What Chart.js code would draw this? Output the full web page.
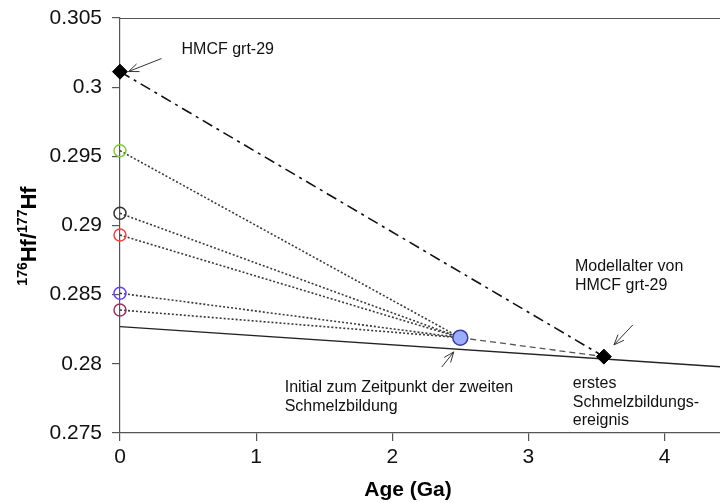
<!DOCTYPE html>
<html>
<head>
<meta charset="utf-8">
<script src="https://cdn.jsdelivr.net/npm/chart.js@4/dist/chart.umd.min.js"></script>
<style>
  html, body { margin: 0; padding: 0; background: #fff; }
  canvas { display: block; }
</style>
</head>
<body>
<canvas id="c" width="720" height="503"></canvas>
<script>
// Axis ranges and ticks
const xMin = 0, xMax = 4.408, xStep = 1;
const yMin = 0.275, yMax = 0.305, yStep = 0.005;

// HMCF grt-29 today and its model age
const hmcfAge = 0, hmcfRatio = 0.30112;
const modelAge = 3.555, modelRatio = 0.28052;

// Initial ratio at the time of the second melt formation
const initialAge = 2.5, initialRatio = 0.28189;

// Present-day sample ratios (age 0) and their marker colours
const sampleRatios = [0.29541, 0.29088, 0.28931, 0.28510, 0.28389];
const sampleColors = ['#7ccf35', '#333333', '#ff3b3b', '#6a3cff', '#993366'];

// Reference evolution line (end points)
const refAges = [0, 4.408];
const refRatios = [0.28269, 0.27979];

// Annotation texts: [age, ratio of first line, lines]
const noteTexts = [
  [0.452, 0.30272, ['HMCF grt-29']],
  [3.342, 0.28701, ['Modellalter von', 'HMCF grt-29']],
  [1.21, 0.27825, ['Initial zum Zeitpunkt der zweiten', 'Schmelzbildung']],
  [3.327, 0.27854, ['erstes', 'Schmelzbildungs-', 'ereignis']]
];
// Annotation arrows: [tailAge, tailRatio, headAge, headRatio]
const noteArrows = [
  [0.305, 0.30207, 0.0625, 0.30113],
  [3.768, 0.28282, 3.629, 0.28137],
  [2.364, 0.27977, 2.452, 0.28086]
];

const FONT = '"Liberation Sans", Arial, sans-serif';

const datasets = [];

// markers (drawn on top)
datasets.push({
  data: [{x: hmcfAge, y: hmcfRatio}, {x: modelAge, y: modelRatio}],
  pointStyle: 'rectRot', pointRadius: 7.5, backgroundColor: '#000', borderColor: '#000',
  borderWidth: 1, showLine: false, clip: false, order: 0
});
datasets.push({
  data: [{x: initialAge, y: initialRatio}],
  pointStyle: 'circle', pointRadius: 7.5, backgroundColor: '#9aaefc', borderColor: '#3a3aa8',
  borderWidth: 1.5, showLine: false, clip: false, order: 0
});
sampleRatios.forEach((r, i) => {
  datasets.push({
    data: [{x: 0, y: r}],
    pointStyle: 'circle', pointRadius: 6, backgroundColor: 'rgba(255,255,255,0)',
    borderColor: sampleColors[i], borderWidth: 1.5, showLine: false, clip: false, order: 0
  });
});

// dotted lines from each sample to the initial point
sampleRatios.forEach((r) => {
  datasets.push({
    data: [{x: 0, y: r}, {x: initialAge, y: initialRatio}],
    showLine: true, pointRadius: 0, borderColor: '#3a3a3a', borderWidth: 1.6,
    borderDash: [2, 2], clip: false, order: 2
  });
});

// dash-dot line from HMCF grt-29 to its model age
datasets.push({
  data: [{x: hmcfAge, y: hmcfRatio}, {x: modelAge, y: modelRatio}],
  showLine: true, pointRadius: 0, borderColor: '#111', borderWidth: 1.6,
  borderDash: [11, 5, 3, 5], order: 2
});

// dashed line from the initial point to the model age
datasets.push({
  data: [{x: initialAge, y: initialRatio}, {x: modelAge, y: modelRatio}],
  showLine: true, pointRadius: 0, borderColor: '#555', borderWidth: 1.3,
  borderDash: [6, 4], order: 2
});

// reference evolution line
datasets.push({
  data: refAges.map((a, i) => ({x: a, y: refRatios[i]})),
  showLine: true, pointRadius: 0, borderColor: '#222', borderWidth: 1.3, order: 3
});

const frame = {
  id: 'frame',
  afterDatasetsDraw(chart) {
    const {ctx, chartArea: a, scales: {x, y}} = chart;
    ctx.save();
    // top frame line
    ctx.strokeStyle = '#555';
    ctx.lineWidth = 1.2;
    ctx.beginPath();
    ctx.moveTo(a.left, a.top + 0.5);
    ctx.lineTo(a.right, a.top + 0.5);
    ctx.stroke();

    // annotation texts
    ctx.fillStyle = '#111';
    ctx.font = '16px ' + FONT;
    ctx.textAlign = 'left';
    ctx.textBaseline = 'middle';
    noteTexts.forEach(([ax, ay, lines]) => {
      const px = x.getPixelForValue(ax), py = y.getPixelForValue(ay);
      lines.forEach((t, i) => ctx.fillText(t, px, py + i * 18.5));
    });

    // annotation arrows
    ctx.strokeStyle = '#333';
    ctx.lineWidth = 1;
    noteArrows.forEach(([tx, ty, hx, hy]) => {
      const x1 = x.getPixelForValue(tx), y1 = y.getPixelForValue(ty);
      const x2 = x.getPixelForValue(hx), y2 = y.getPixelForValue(hy);
      const ang = Math.atan2(y2 - y1, x2 - x1);
      const L = 11, spread = 0.38;
      ctx.beginPath();
      ctx.moveTo(x1, y1); ctx.lineTo(x2, y2);
      ctx.moveTo(x2, y2);
      ctx.lineTo(x2 - L * Math.cos(ang - spread), y2 - L * Math.sin(ang - spread));
      ctx.moveTo(x2, y2);
      ctx.lineTo(x2 - L * Math.cos(ang + spread), y2 - L * Math.sin(ang + spread));
      ctx.stroke();
    });
    ctx.restore();
  },
  afterDraw(chart) {
    const {ctx} = chart;
    ctx.save();
    ctx.fillStyle = '#000';
    // x axis title
    ctx.font = 'bold 21px ' + FONT;
    ctx.textAlign = 'center';
    ctx.textBaseline = 'middle';
    ctx.fillText('Age (Ga)', 408, 490);

    // y axis title with superscript mass numbers
    const parts = [
      ['176', 'bold 14px ', -7], ['Hf/', 'bold 22px ', 0],
      ['177', 'bold 14px ', -7], ['Hf', 'bold 22px ', 0]
    ];
    let total = 0;
    parts.forEach(p => { ctx.font = p[1] + FONT; total += ctx.measureText(p[0]).width; });
    ctx.translate(30, 236);
    ctx.rotate(-Math.PI / 2);
    ctx.textAlign = 'left';
    ctx.textBaseline = 'middle';
    let cx = -total / 2;
    parts.forEach(p => {
      ctx.font = p[1] + FONT;
      ctx.fillText(p[0], cx, p[2]);
      cx += ctx.measureText(p[0]).width;
    });
    ctx.restore();
  }
};

new Chart(document.getElementById('c'), {
  type: 'scatter',
  data: { datasets },
  options: {
    responsive: false,
    devicePixelRatio: 1,
    animation: false,
    events: [],
    layout: { autoPadding: false, padding: { top: 18, right: 0, bottom: 0, left: 0 } },
    plugins: { legend: { display: false }, tooltip: { enabled: false } },
    scales: {
      x: {
        type: 'linear', min: xMin, max: xMax,
        afterFit(s) { s.height = 70; s.paddingLeft = 0; s.paddingRight = 0; },
        border: { color: '#555', width: 1.2 },
        grid: { drawOnChartArea: false, drawTicks: true, tickLength: 8, color: '#555', lineWidth: 1.2 },
        ticks: {
          stepSize: xStep, includeBounds: false, padding: 4, color: '#111',
          font: { family: FONT, size: 21 }, maxRotation: 0,
          callback: v => String(v)
        }
      },
      y: {
        type: 'linear', min: yMin, max: yMax,
        afterFit(s) { s.width = 120; s.paddingTop = 0; s.paddingBottom = 0; },
        border: { color: '#555', width: 1.2 },
        grid: { drawOnChartArea: false, drawTicks: true, tickLength: 8, color: '#555', lineWidth: 1.2 },
        ticks: {
          stepSize: yStep, padding: 10, color: '#111',
          font: { family: FONT, size: 21 },
          callback: v => String(Number(v.toFixed(3)))
        }
      }
    }
  },
  plugins: [frame]
});
</script>
</body>
</html>
